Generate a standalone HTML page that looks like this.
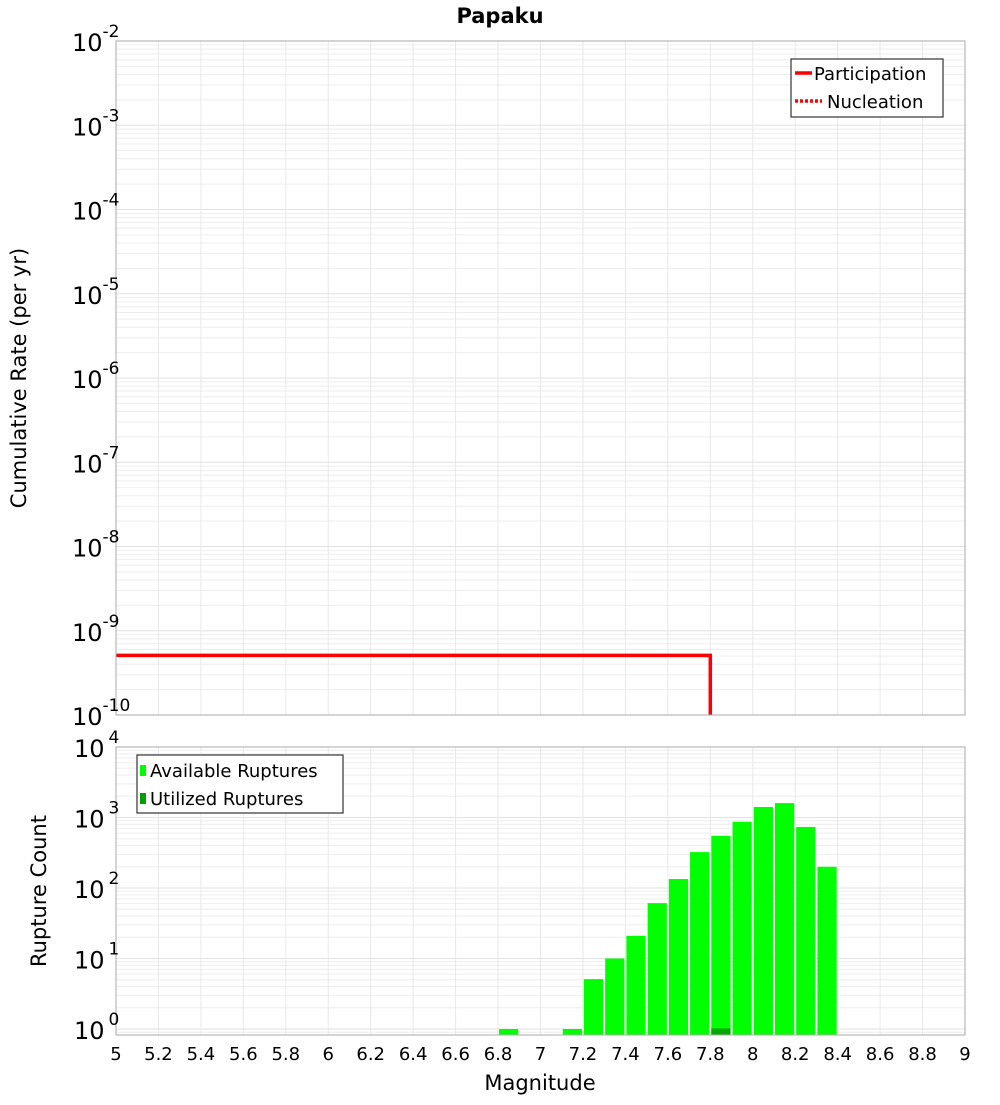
<!DOCTYPE html>
<html><head><meta charset="utf-8"><style>
body{margin:0;background:#fff;width:1000px;height:1100px;overflow:hidden}
svg text{font-family:"DejaVu Sans","Liberation Sans",sans-serif}
</style></head><body>
<svg id="chart" width="1000" height="1100" xmlns="http://www.w3.org/2000/svg">
<text x="500" y="23" text-anchor="middle" font-size="21" font-weight="bold">Papaku</text>
<g id="topPlot"></g>
<g id="botPlot"></g>
<text transform="translate(26,378) rotate(-90)" text-anchor="middle" font-size="21">Cumulative Rate (per yr)</text>
<text transform="translate(46,891) rotate(-90)" text-anchor="middle" font-size="21">Rupture Count</text>
<text x="540" y="1090" text-anchor="middle" font-size="21">Magnitude</text>
<g id="legends"></g>
</svg>
<script>
const partMags=[5.0,7.8,7.8];
const partRates=[5.1e-10,5.1e-10,1e-11];
const binMags=[6.8,7.1,7.2,7.3,7.4,7.5,7.6,7.7,7.8,7.9,8.0,8.1,8.2,8.3];
const availCounts=[1,1,5.1,10,21,61,134,323,550,870,1410,1600,735,200];
const utilMags=[7.8];
const utilCounts=[1.02];
const xTicks=["5","5.2","5.4","5.6","5.8","6","6.2","6.4","6.6","6.8","7","7.2","7.4","7.6","7.8","8","8.2","8.4","8.6","8.8","9"];
const topExps=[-2,-3,-4,-5,-6,-7,-8,-9,-10];
const botExps=[4,3,2,1,0];

const NS="http://www.w3.org/2000/svg";
const L=116,R=965;
const T1=41,B1=715,T2=747,B2=1035;
function X(m){return L+(m-5)/4*(R-L);}
function Y1(v){return T1+(-2-Math.log10(v))*(B1-T1)/8;}
function Y2(v){return T2+(4-Math.log10(v))*70.5;}
function mk(p,tag,a){const e=document.createElementNS(NS,tag);for(const k in a)e.setAttribute(k,a[k]);p.appendChild(e);return e;}
const gTop=document.getElementById('topPlot'),gBot=document.getElementById('botPlot');

function frame(g,T,B,yf,exLo,exHi,name){
  const grid=mk(g,'g',{});
  
  
  for(let e=exLo;e<exHi;e++)for(let k=1;k<10;k++){const y=yf(k*Math.pow(10,e));if(y<T||y>B)continue;
    mk(grid,'line',{x1:L,x2:R,y1:y,y2:y,stroke:k==1?'#e2e2e2':'#eeeeee','stroke-width':1});}
  xTicks.forEach(t=>{const x=X(+t);mk(grid,'line',{x1:x,x2:x,y1:T,y2:B,stroke:'#e8e8e8','stroke-width':1});});
}
frame(gTop,T1,B1,Y1,-11,-1,'rate');
frame(gBot,T2,B2,Y2,-1,4,'count');

const clip=mk(gTop,'clipPath',{id:'c1'});mk(clip,'rect',{x:L,y:T1,width:R-L,height:B1-T1});
const pts=partMags.map((m,i)=>X(m)+','+Y1(partRates[i])).join(' ');
const pl=mk(gTop,'polyline',{points:pts,fill:'none',stroke:'#f00','stroke-width':3.5,'clip-path':'url(#c1)'});


mk(gTop,'rect',{x:L,y:T1,width:R-L,height:B1-T1,fill:'none',stroke:'#aaa','stroke-width':1});
topExps.forEach(e=>{const y=Y1(Math.pow(10,e));
  const t=mk(gTop,'text',{x:72,y:y+10,'font-size':24});
  
  
  t.textContent='10';const s=mk(t,'tspan',{dy:-14,'font-size':17});s.textContent=String(e);});

const clip2=mk(gBot,'clipPath',{id:'c2'});mk(clip2,'rect',{x:L,y:T2,width:R-L,height:B2-T2});
binMags.forEach((m,i)=>{const x0=X(m)+1,x1=X(m+0.1)-1,y=Y2(availCounts[i]);
  const r=mk(gBot,'rect',{x:x0,y:y,width:x1-x0,height:B2-y,fill:'#00ff00','clip-path':'url(#c2)'});
  
  });
utilMags.forEach((m,i)=>{const x0=X(m)+1,x1=X(m+0.1)-1,y=Y2(utilCounts[i]);
  const r=mk(gBot,'rect',{x:x0,y:y,width:x1-x0,height:B2-y,fill:'#00a800','clip-path':'url(#c2)'});
  
  });
mk(gBot,'rect',{x:L,y:T2,width:R-L,height:B2-T2,fill:'none',stroke:'#aaa','stroke-width':1});
botExps.forEach(e=>{const y=Y2(Math.pow(10,e));
  const t=mk(gBot,'text',{x:74,y:y+10,'font-size':24});
  
  
  t.textContent='10';const s=mk(t,'tspan',{dx:4,dy:-14,'font-size':17});s.textContent=String(e);});
xTicks.forEach(tk=>{const t=mk(gBot,'text',{x:X(+tk),y:1060,'font-size':18,'text-anchor':'middle'});
  
  
  t.textContent=tk;});

// legends drawn last (on top)
const lg=document.getElementById('legends');
lg.innerHTML=`<g>
<rect x="791" y="59" width="152" height="58" fill="#fff" stroke="#333" stroke-width="1.2"/>
<line x1="795" y1="73" x2="812" y2="73" stroke="#f00" stroke-width="3.5"/>
<text x="814" y="80" font-size="18">Participation</text>
<line x1="795" y1="101" x2="822" y2="101" stroke="#f00" stroke-width="3.5" stroke-dasharray="3,2"/>
<text x="827" y="108" font-size="18">Nucleation</text>
</g>
<g>
<rect x="137" y="755" width="206" height="58" fill="#fff" stroke="#333" stroke-width="1.2"/>
<rect x="140" y="765" width="6" height="11" fill="#00ff00"/>
<text x="150" y="777" font-size="18">Available Ruptures</text>
<rect x="140" y="793" width="6" height="11" fill="#00a000"/>
<text x="150" y="805" font-size="18">Utilized Ruptures</text>
</g>`;
</script>
</body></html>
